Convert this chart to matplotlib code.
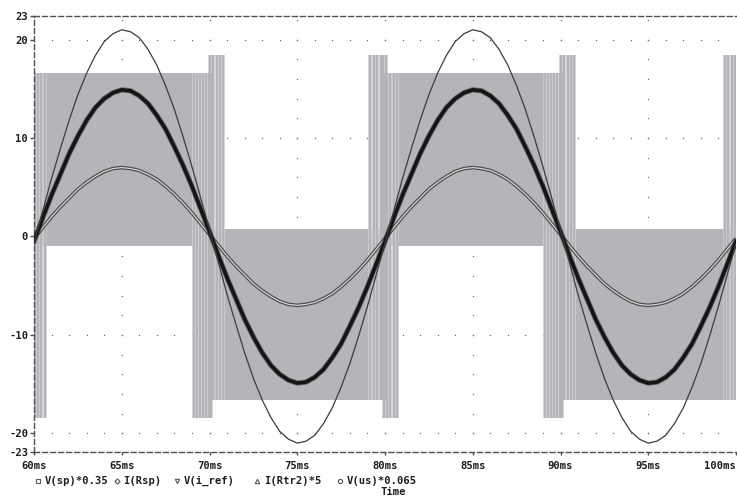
import numpy as np
import matplotlib
matplotlib.use("Agg")
import matplotlib.pyplot as plt
from matplotlib.lines import Line2D

# ---------------- data ----------------
time_ms = np.arange(60.0, 100.0001, 0.5)

# V(us)*0.065  (thin trace)
v_us = [-0.7,
        2.6, 5.9, 8.9, 11.8, 14.4, 16.6, 18.4, 19.8, 20.6, 21.0,
        20.8, 20.2, 19.0, 17.4, 15.3, 12.9, 10.1, 7.1, 3.9, 0.7,
        -2.6, -5.9, -8.9, -11.8, -14.4, -16.6, -18.4, -19.8, -20.6, -21.0,
        -20.8, -20.2, -19.0, -17.4, -15.3, -12.9, -10.1, -7.1, -3.9, -0.7,
        2.6, 5.9, 8.9, 11.8, 14.4, 16.6, 18.4, 19.8, 20.6, 21.0,
        20.8, 20.2, 19.0, 17.4, 15.3, 12.9, 10.1, 7.1, 3.9, 0.7,
        -2.6, -5.9, -8.9, -11.8, -14.4, -16.6, -18.4, -19.8, -20.6, -21.0,
        -20.8, -20.2, -19.0, -17.4, -15.3, -12.9, -10.1, -7.1, -3.9, -0.7]

# I(Rtr2)*5  (thick trace)
i_rtr2 = [-0.5,
          1.9, 4.2, 6.3, 8.4, 10.2, 11.8, 13.1, 14.0, 14.6, 14.9,
          14.8, 14.3, 13.5, 12.3, 10.9, 9.1, 7.2, 5.1, 2.8, 0.5,
          -1.9, -4.2, -6.3, -8.4, -10.2, -11.8, -13.1, -14.0, -14.6, -14.9,
          -14.8, -14.3, -13.5, -12.3, -10.9, -9.1, -7.2, -5.1, -2.8, -0.5,
          1.9, 4.2, 6.3, 8.4, 10.2, 11.8, 13.1, 14.0, 14.6, 14.9,
          14.8, 14.3, 13.5, 12.3, 10.9, 9.1, 7.2, 5.1, 2.8, 0.5,
          -1.9, -4.2, -6.3, -8.4, -10.2, -11.8, -13.1, -14.0, -14.6, -14.9,
          -14.8, -14.3, -13.5, -12.3, -10.9, -9.1, -7.2, -5.1, -2.8, -0.5]

# I(Rsp) / V(i_ref)  (double / hollow trace)
i_rsp = [-0.2,
         0.9, 2.0, 3.0, 3.9, 4.8, 5.5, 6.1, 6.6, 6.9, 7.0,
         6.9, 6.7, 6.3, 5.8, 5.1, 4.3, 3.4, 2.4, 1.3, 0.2,
         -0.9, -2.0, -3.0, -3.9, -4.8, -5.5, -6.1, -6.6, -6.9, -7.0,
         -6.9, -6.7, -6.3, -5.8, -5.1, -4.3, -3.4, -2.4, -1.3, -0.2,
         0.9, 2.0, 3.0, 3.9, 4.8, 5.5, 6.1, 6.6, 6.9, 7.0,
         6.9, 6.7, 6.3, 5.8, 5.1, 4.3, 3.4, 2.4, 1.3, 0.2,
         -0.9, -2.0, -3.0, -3.9, -4.8, -5.5, -6.1, -6.6, -6.9, -7.0,
         -6.9, -6.7, -6.3, -5.8, -5.1, -4.3, -3.4, -2.4, -1.3, -0.2]

# V(sp)*0.35  (PWM envelope, gray)
pwm_pos_windows = [(60.0, 70.1), (80.05, 90.1)]
pwm_neg_windows = [(70.0, 80.1), (90.0, 100.0)]
pwm_pos_high, pwm_pos_low = 16.6, -1.0
pwm_neg_high, pwm_neg_low = 0.8, -16.6
spike_high, spike_low = 18.4, -18.4
down_spikes = [60.05, 60.2, 60.4, 60.6,
               69.1, 69.3, 69.45, 69.65, 69.8, 69.95, 70.08,
               79.95, 80.1, 80.3, 80.5, 80.7,
               89.1, 89.3, 89.45, 89.65, 89.8, 89.95, 90.08]
up_spikes = [70.02, 70.2, 70.4, 70.6, 70.78,
             79.15, 79.35, 79.55, 79.75, 79.9, 80.05,
             90.02, 90.2, 90.4, 90.6, 90.78,
             99.35, 99.55, 99.75, 99.92]

x_ticks = [60, 65, 70, 75, 80, 85, 90, 95, 100]
x_tick_labels = ["60ms", "65ms", "70ms", "75ms", "80ms", "85ms", "90ms", "95ms", "100ms"]
y_ticks = [-20, -10, 0, 10, 20]
y_tick_labels = ["-20", "-10", "0", "10", "20"]
y_min, y_max = -21.9, 22.4
y_end_labels = ["-23", "23"]
legend_labels = ["V(sp)*0.35", "I(Rsp)", "V(i_ref)", "I(Rtr2)*5", "V(us)*0.065"]
legend_markers = ["s", "D", "v", "^", "o"]
x_title = "Time"

# ---------------- drawing ----------------
W, H = 737, 497
fig = plt.figure(figsize=(W / 100, H / 100), dpi=100)
ax = fig.add_axes([34 / W, 1 - 452 / H, (736 - 34) / W, (452 - 16) / H])
ax.set_xlim(60, 100)
ax.set_ylim(y_min, y_max)

FONT = dict(family="DejaVu Sans Mono", weight="bold", size=7.6)
GRAY = "#b4b5b9"
LIGHT = "#cfd0d3"
AXC = "#505050"

# grid dots
for xv in x_ticks[1:-1]:
    ys = np.arange(-22, 23, 2)
    ax.plot([xv] * len(ys), ys, ls="none", marker="s", ms=0.9, mew=0,
            color="#6a6a6a", zorder=1)
for yv in y_ticks:
    xs = np.arange(61, 100, 1)
    ax.plot(xs, [yv] * len(xs), ls="none", marker="s", ms=0.9, mew=0,
            color="#6a6a6a", zorder=1)

# PWM band
for (a, b) in pwm_pos_windows:
    ax.fill_between([a, b], pwm_pos_low, pwm_pos_high, color=GRAY, lw=0, zorder=2)
for (a, b) in pwm_neg_windows:
    ax.fill_between([a, b], pwm_neg_low, pwm_neg_high, color=GRAY, lw=0, zorder=2)
ax.vlines(down_spikes, spike_low, pwm_pos_high, color=LIGHT, lw=2.6, zorder=2.05)
ax.vlines(down_spikes, spike_low, pwm_pos_high, color=GRAY, lw=1.5, zorder=2.1)
ax.vlines(up_spikes, pwm_neg_low, spike_high, color=LIGHT, lw=2.6, zorder=2.05)
ax.vlines(up_spikes, pwm_neg_low, spike_high, color=GRAY, lw=1.5, zorder=2.1)

# traces
ax.plot(time_ms, i_rsp, color="#4a4a4a", lw=2.6, zorder=4, solid_capstyle="butt")
ax.plot(time_ms, i_rsp, color="#d6d6d6", lw=0.9, zorder=4.1)
ax.plot(time_ms, i_rtr2, color="#2a2a2a", lw=3.8, alpha=0.55, zorder=5)
ax.plot(time_ms, i_rtr2, color="#151515", lw=2.6, zorder=5.1)
ax.plot(time_ms, v_us, color="#3c3c3c", lw=0.9, zorder=6)

# spines
for s in ["left", "top", "bottom"]:
    ax.spines[s].set_linestyle((0, (3.6, 2.2)))
    ax.spines[s].set_color(AXC)
    ax.spines[s].set_linewidth(1.0)
ax.spines["right"].set_visible(False)

ax.set_xticks(x_ticks)
ax.set_xticklabels(x_tick_labels, **FONT)
ax.set_yticks([y_min] + y_ticks + [y_max])
ax.set_yticklabels([y_end_labels[0]] + y_tick_labels + [y_end_labels[1]], **FONT)
ax.tick_params(axis="y", direction="out", length=3.2, width=1, color=AXC, pad=1.0,
               labelcolor="#1e1e1e")
ax.tick_params(axis="x", direction="out", length=2.2, width=1, color=AXC, pad=4.5,
               labelcolor="#1e1e1e")
xl = ax.get_xticklabels()
xl[-1].set_horizontalalignment("right")

# legend row
marker_x = [38, 117, 177, 257, 340]
text_x = [45, 123, 184, 264, 347]
marker_sizes = [3.0, 2.6, 3.2, 3.2, 3.0]
ly = 1 - 481 / H
for mx, tx, lab, mk, msz in zip(marker_x, text_x, legend_labels, legend_markers, marker_sizes):
    fig.add_artist(Line2D([mx / W], [ly], transform=fig.transFigure, marker=mk,
                          ms=msz, mfc="white", mec="#555555", mew=0.8, ls="none"))
    fig.text(tx / W, ly, lab, ha="left", va="center", color="#1e1e1e", **FONT)
fig.text(406 / W, 1 - 492 / H, x_title, ha="right", va="center", color="#1e1e1e", **FONT)

fig.savefig("out.png", dpi=100)
